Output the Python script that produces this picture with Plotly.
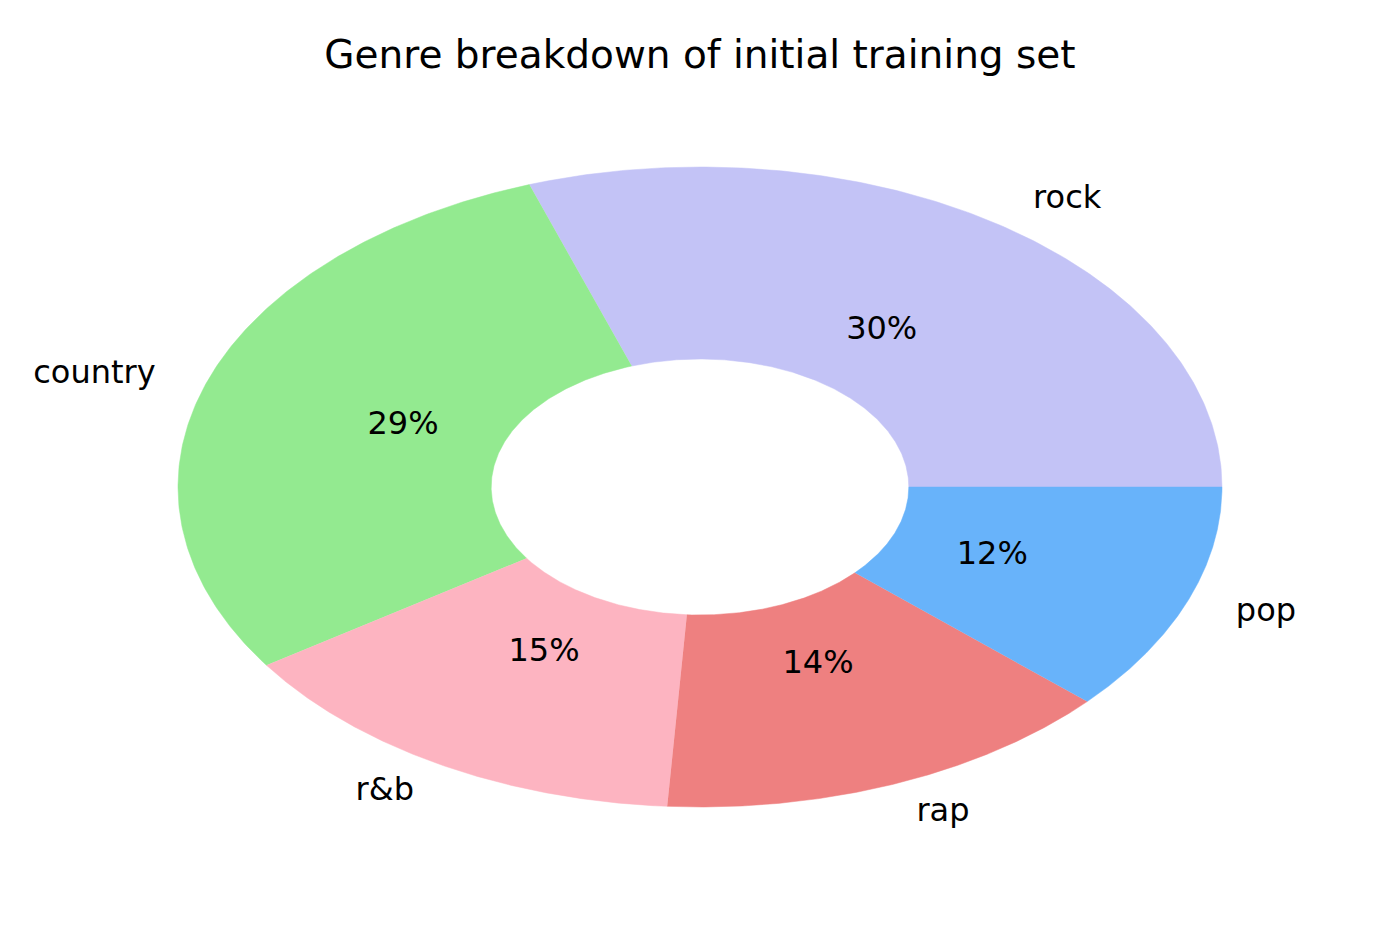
import numpy as np
import plotly.graph_objects as go

genres = ["rock", "country", "r&b", "rap", "pop"]
shares = [30.3, 29.1, 14.6, 14.3, 11.7]
colors = ["#c3c3f6", "#93ea90", "#fdb4c1", "#ee8080", "#68b3fa"]

hole = 0.4
pct_dist = 0.6
label_dist = 1.1

fig = go.Figure()

total = sum(shares)
start = 0.0
for name, val, col in zip(genres, shares, colors):
    span = 360.0 * val / total
    a = np.radians(np.linspace(start, start + span, 200))
    xs = np.concatenate([np.cos(a), hole * np.cos(a[::-1])])
    ys = np.concatenate([np.sin(a), hole * np.sin(a[::-1])])
    fig.add_trace(go.Scatter(x=xs, y=ys, fill="toself", fillcolor=col, mode="lines",
                             line=dict(color=col, width=0.5), hoverinfo="skip",
                             showlegend=False))
    mid = np.radians(start + span / 2)
    # percentage inside the wedge
    fig.add_trace(go.Scatter(x=[pct_dist * np.cos(mid)], y=[pct_dist * np.sin(mid)],
                             mode="text", text=["%d%%" % round(100 * val / total)],
                             textposition="middle center",
                             textfont=dict(family="DejaVu Sans", size=32, color="black"),
                             hoverinfo="skip", showlegend=False))
    # genre label outside
    lx = label_dist * np.cos(mid)
    fig.add_trace(go.Scatter(x=[lx], y=[label_dist * np.sin(mid)], mode="text",
                             text=[name],
                             textposition="middle right" if lx > 0 else "middle left",
                             textfont=dict(family="DejaVu Sans", size=32, color="black"),
                             hoverinfo="skip", showlegend=False))
    start += span

# page body adds an 8px offset, so the centre sits at (692, 479) inside the figure
fig.update_layout(
    width=1400, height=934,
    margin=dict(l=0, r=0, t=0, b=0),
    paper_bgcolor="white", plot_bgcolor="white",
    title=dict(text="Genre breakdown of initial training set", x=692 / 1400, xanchor="center",
               y=1 - 46 / 934, yanchor="middle",
               font=dict(family="DejaVu Sans", size=39, color="black")),
    xaxis=dict(range=[-692 / 522, 708 / 522], visible=False, fixedrange=True),
    yaxis=dict(range=[-455 / 320, 479 / 320], visible=False, fixedrange=True),
)

fig.write_html("out.html")
